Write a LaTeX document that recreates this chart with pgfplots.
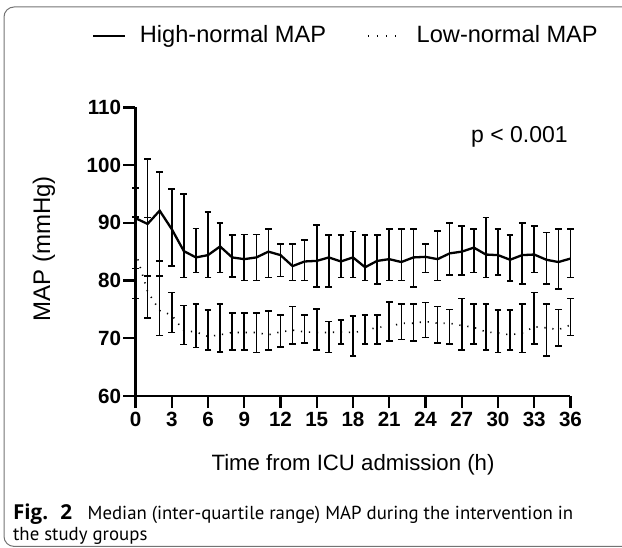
\documentclass[border=0pt]{standalone}
\usepackage{pgfplots}
\usepackage{pgfplotstable}
\pgfplotsset{compat=1.18}
\usepackage{fontspec}
\setmainfont{Liberation Sans}
\newfontfamily\capfont{PT Sans}
\newfontfamily\figfont{Open Sans}

% t = hour, m = median, lo/hi = quartiles
\pgfplotstableread{
t m lo hi
0 90.8 82.1 96.0
1 89.8 80.8 101.0
2 92.1 80.8 98.8
3 88.9 82.5 95.9
4 85.1 80.5 95.0
5 84.0 81.4 89.0
6 84.4 80.5 91.9
7 85.9 81.4 90.0
8 84.0 80.6 87.9
9 83.7 80.0 88.0
10 84.0 80.0 88.0
11 85.0 80.5 88.9
12 84.4 80.7 86.3
13 82.5 80.0 86.3
14 83.3 80.0 87.0
15 83.4 78.9 89.6
16 84.0 78.9 87.9
17 83.3 80.5 87.9
18 84.0 80.5 88.5
19 82.3 80.0 87.9
20 83.4 79.4 87.9
21 83.7 80.0 88.9
22 83.2 80.0 88.9
23 84.0 78.9 88.9
24 84.1 81.4 86.3
25 83.7 80.0 88.6
26 84.7 81.0 90.0
27 85.0 81.0 89.4
28 85.7 81.4 88.9
29 84.5 80.5 90.9
30 84.4 81.0 88.9
31 83.6 79.9 87.9
32 84.4 79.4 90.0
33 84.5 81.4 89.4
34 83.6 79.4 88.3
35 83.2 78.5 88.9
36 83.8 80.5 88.9
}\highmap

\pgfplotstableread{
t m lo hi
0 85.0 76.9 91.0
1 78.1 73.5 90.9
2 74.8 70.5 83.4
3 74.0 71.0 77.9
4 71.3 68.9 75.7
5 71.1 68.4 75.9
6 70.3 68.0 74.9
7 70.6 67.6 75.9
8 71.0 68.0 74.4
9 71.0 68.0 74.4
10 71.0 67.5 74.4
11 70.6 68.0 74.7
12 71.1 68.5 74.0
13 71.4 69.0 75.5
14 71.1 69.2 74.0
15 71.0 68.0 75.1
16 71.0 67.5 72.9
17 71.1 69.0 73.2
18 71.0 66.9 73.9
19 71.3 69.0 74.0
20 71.9 69.0 74.0
21 72.0 69.5 76.3
22 72.6 69.8 75.9
23 72.6 69.5 75.9
24 72.9 70.1 76.2
25 72.6 69.2 75.5
26 72.6 69.0 75.0
27 72.2 68.0 76.9
28 71.9 69.0 75.9
29 71.1 68.0 75.9
30 70.9 67.5 74.9
31 70.6 68.0 74.9
32 70.9 67.5 75.9
33 72.0 69.0 77.9
34 71.8 66.9 75.9
35 71.5 68.7 75.0
36 72.3 70.5 76.9
}\lowmap

\begin{document}
\begin{tikzpicture}
\useasboundingbox (0,0) rectangle (311pt,273.5pt);
\draw[black!55, line width=0.5pt, rounded corners=5pt] (2pt,270pt) rectangle (330pt,0.3pt);

\begin{axis}[
  at={(67.75pt,75.5pt)}, anchor=south west,
  scale only axis,
  width=217.5pt, height=144.35pt,
  xmin=0, xmax=36, ymin=60, ymax=110,
  axis x line=bottom, axis y line=left,
  axis line style={-, line width=1.2pt},
  xtick={0,3,...,36}, ytick={60,70,...,110},
  tick align=outside, major tick length=6pt,
  tick style={line width=1.2pt, black},
  /pgf/number format/assume math mode=true,
  ticklabel style={font=\fontsize{10.3}{12}\selectfont\bfseries},
  xticklabel style={inner sep=1pt, yshift=-1pt},
  yticklabel style={inner sep=1pt},
  xlabel={Time from ICU admission (h)},
  ylabel={MAP (mmHg)},
  x label style={font=\fontsize{11.1}{13}\selectfont, at={(axis description cs:0.5,0)}, anchor=base, yshift=-37.35pt},
  y label style={font=\fontsize{12}{14}\selectfont, at={(axis description cs:-0.2103,0.51)}, anchor=center},
  clip=false,
  legend columns=2,
  legend style={draw=none, fill=none, inner sep=0pt,
    at={(axis description cs:-0.1007,1.248)}, anchor=west,
    font=\fontsize{11.8}{14}\selectfont,
    /tikz/column 1/.style={column sep=5pt},
    /tikz/column 2/.style={column sep=18.5pt},
    /tikz/column 3/.style={column sep=8pt}},
  error bars/error bar style={line width=0.8pt, black, solid},
  error bars/error mark options={rotate=90, mark size=1.7pt, line width=0.8pt, black, solid},
]
\addplot[black, line width=1.15pt, mark=none,
  legend image code/.code={\draw[black, line width=1.1pt] (0pt,0pt) -- (15.8pt,0pt);},
  error bars/.cd, y dir=both, y explicit]
  table[x=t, y=m, y error plus expr=\thisrow{hi}-\thisrow{m}, y error minus expr=\thisrow{m}-\thisrow{lo}] {\highmap};
\addlegendentry{High-normal MAP}

\addplot[black, line width=0.8pt, mark=none, dash pattern=on 0.6pt off 3.4pt,
  legend image code/.code={\draw[black, line width=0.8pt, dash pattern=on 0.6pt off 3.9pt] (0pt,0pt) -- (14pt,0pt);},
  error bars/.cd, y dir=both, y explicit]
  table[x=t, y=m, y error plus expr=\thisrow{hi}-\thisrow{m}, y error minus expr=\thisrow{m}-\thisrow{lo}] {\lowmap};
\addlegendentry{Low-normal MAP}

\node[anchor=base east, inner sep=0pt, font=\fontsize{11.5}{13}\selectfont] at (axis cs:35.8,103.9) {p < 0.001};
\end{axis}

\node[anchor=base west, inner sep=0pt, font=\figfont\fontsize{10.3}{12}\selectfont\bfseries] at (6.35pt,13.85pt) {Fig.};
\node[anchor=base west, inner sep=0pt, font=\figfont\fontsize{10.3}{12}\selectfont\bfseries] at (30pt,13.85pt) {2};
\node[anchor=base west, inner sep=0pt, font=\capfont\fontsize{9.4}{11}\selectfont] at (43.65pt,13.85pt) {Median (inter-quartile range) MAP during the intervention in};
\node[anchor=base west, inner sep=0pt, font=\capfont\fontsize{9.4}{11}\selectfont] at (6.35pt,3.5pt) {the study groups};
\end{tikzpicture}
\end{document}
